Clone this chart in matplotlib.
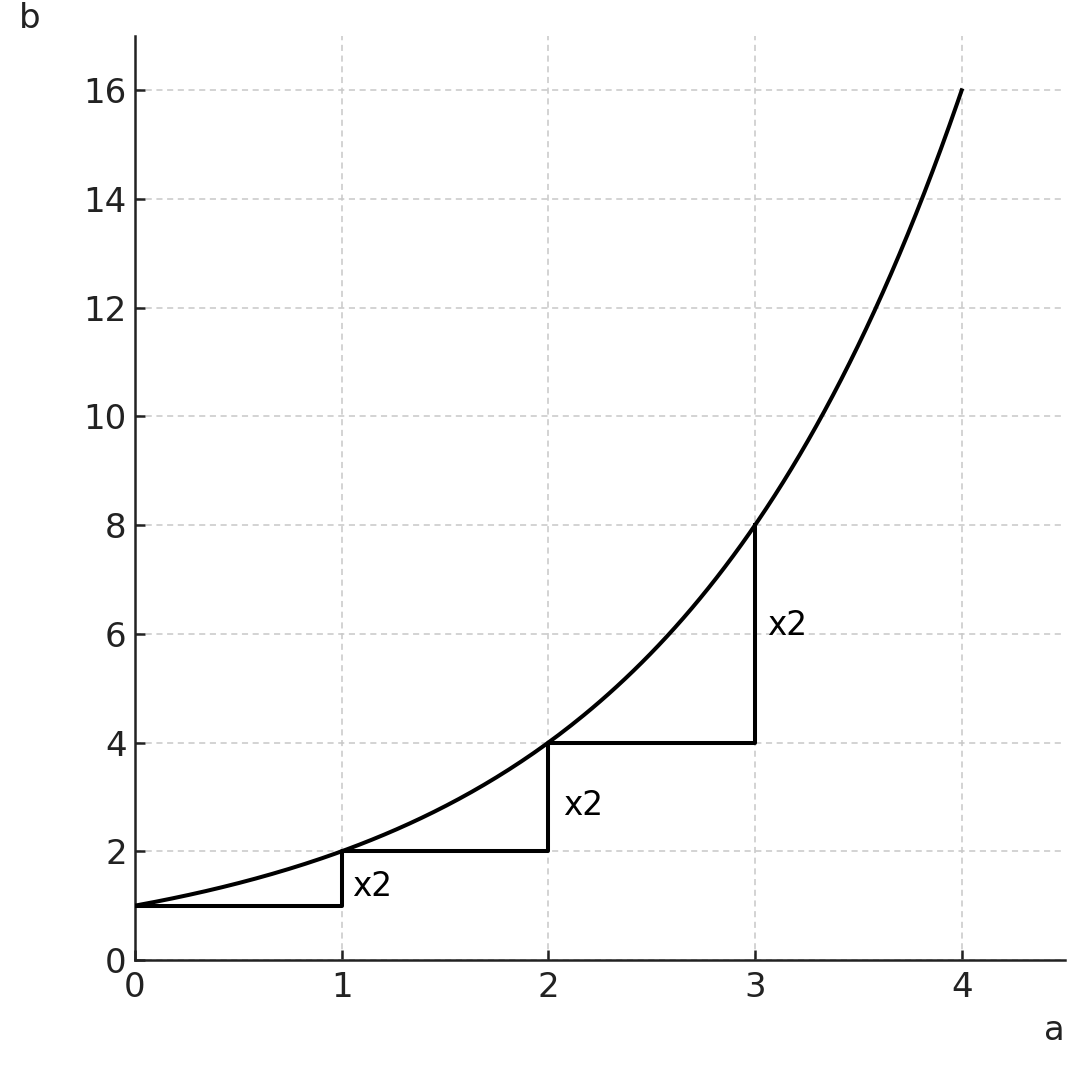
import numpy as np
import matplotlib.pyplot as plt

# curve b = 2**a, sampled on a
curve_a = np.linspace(0, 4, 200)
curve_b = np.power(2.0, curve_a)

# step path showing the doubling
step_a = [0, 1, 1, 2, 2, 3, 3]
step_b = [1, 1, 2, 2, 4, 4, 8]

# "x2" annotation positions
note_a = [1.05, 2.07, 3.06]
note_b = [1.35, 2.85, 6.15]
note_text = ["x2", "x2", "x2"]

xticks = [0, 1, 2, 3, 4]
yticks = [0, 2, 4, 6, 8, 10, 12, 14, 16]

ink = "#222222"

fig = plt.figure(figsize=(10.85, 10.67), dpi=100)
ax = fig.add_axes([135 / 1085, 1 - 960 / 1067, 930 / 1085, 924 / 1067])

ax.plot(curve_a, curve_b, color="black", lw=2.9, zorder=3)
ax.plot(step_a, step_b, color="black", lw=2.9, zorder=3)
for x, y, t in zip(note_a, note_b, note_text):
    ax.text(x, y, t, fontsize=23.5, color="black", va="center", ha="left")

ax.set_xlim(0, 4.5)
ax.set_ylim(0, 17)
ax.set_xticks(xticks)
ax.set_yticks(yticks)
ax.grid(True, ls="--", color="#c8c8c8", lw=1.1, dashes=(4, 3))
ax.set_axisbelow(True)

for side in ["top", "right"]:
    ax.spines[side].set_visible(False)
for side in ["left", "bottom"]:
    ax.spines[side].set_color(ink)
    ax.spines[side].set_linewidth(1.8)

ax.tick_params(direction="in", length=7, width=1.8, color=ink,
               labelsize=24.5, labelcolor=ink)
ax.tick_params(axis="x", pad=8)
ax.tick_params(axis="y", pad=6)

fig.text(30 / 1085, 1 - 19 / 1067, "b", fontsize=24.5, color=ink, ha="center", va="center")
fig.text(1054 / 1085, 1 - 1031 / 1067, "a", fontsize=24.5, color=ink, ha="center", va="center")

fig.savefig("out.png", dpi=100)
